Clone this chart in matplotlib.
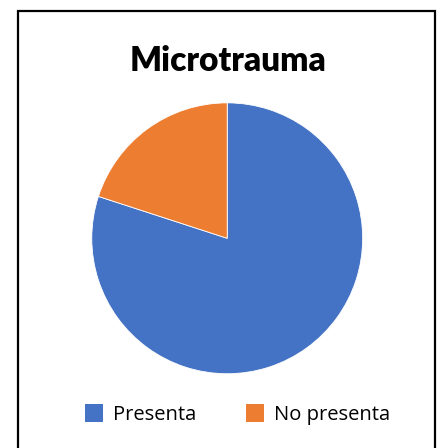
#!/usr/bin/env python3
from matplotlib import pyplot as plt
from matplotlib.lines import Line2D
from matplotlib.patches import Rectangle

plt.rcParams['font.family'] = ['Open Sans', 'DejaVu Sans']

# data
labels = ['Presenta', 'No presenta']
values = [80, 20]
colors = ['#4472C4', '#ED7D31']
title = 'Microtrauma'

fig = plt.figure(figsize=(4.39, 4.48), dpi=100)

# chart frame (left, top and right edges visible, bottom runs off)
fig.patches.append(Rectangle((18 / 439, -0.05), (435 - 18) / 439, 1.05 - 11 / 448,
                             transform=fig.transFigure, fill=False,
                             edgecolor='black', linewidth=1.6))

ax = fig.add_axes([0.2091, 0.1656, 0.617, 0.605])
wedges, _ = ax.pie(values, colors=colors, startangle=90, counterclock=False,
                   wedgeprops=dict(linewidth=0.6, edgecolor='white'))
ax.set_xlim(-1, 1)
ax.set_ylim(-1, 1)
ax.set_aspect('equal')

fig.text(0.519, 1 - 71 / 448, title, ha='center', va='baseline',
         fontsize=24, fontweight='heavy', family=['Lato', 'DejaVu Sans'])

handles = [Line2D([], [], marker='s', linestyle='none', markersize=12.5,
                  markerfacecolor=w.get_facecolor(), markeredgewidth=0)
           for w in wedges]
fig.legend(handles, labels, loc='center', bbox_to_anchor=(0.54, 1 - 415 / 448),
           ncol=2, frameon=False, fontsize=14.5, handletextpad=0.45,
           columnspacing=2.4, handlelength=1.0)

fig.savefig('out.png', dpi=100)
